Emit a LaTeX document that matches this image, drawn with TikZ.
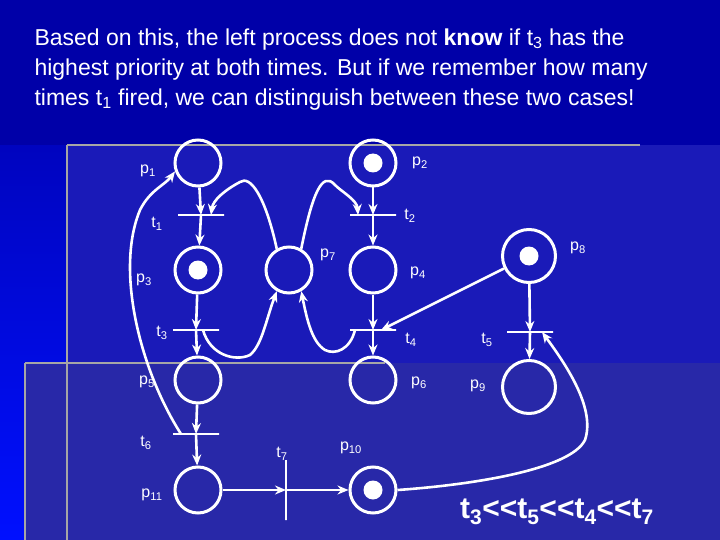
\documentclass[tikz,border=0pt]{standalone}
\usepackage{fontspec}
\setmainfont{Liberation Sans}
\usetikzlibrary{arrows.meta}
\definecolor{topblue}{HTML}{0000A8}
\definecolor{sideblue}{HTML}{0010FF}
\definecolor{panelA}{HTML}{1A1AB8}
\definecolor{panelB}{HTML}{2828A8}
\begin{document}
\begin{tikzpicture}[x=1pt,y=-1pt,
  pl/.style={circle,draw=white,line width=3pt,minimum size=46pt,inner sep=0pt},
  tok/.style={circle,fill=white,minimum size=19pt,inner sep=0pt},
  tr/.style={draw=white,line width=2.6pt,minimum width=46pt,minimum height=0pt,inner sep=0pt},
  trv/.style={draw=white,line width=2.6pt,minimum height=60pt,minimum width=0pt,inner sep=0pt},
  arc/.style={white,line width=2.6pt,-{Stealth[length=11pt,width=9pt]}},
  lab/.style={text=white,font=\fontsize{16}{18}\selectfont},
]
\useasboundingbox (0,0) rectangle (720,540);
\shade[top color=topblue,bottom color=sideblue] (0,0) rectangle (720,540);
\fill[topblue] (0,0) rectangle (720,145);
\fill[panelA] (67,145) rectangle (720,540);
\fill[panelB] (25,363) rectangle (720,540);
\draw[gray!70,line width=2.5pt] (67,145) -- (640,145);
\draw[gray!70,line width=2.5pt] (67,145) -- (67,540);
\draw[gray!70,line width=2.5pt] (25,363) -- (385,363);
\draw[gray!70,line width=2.5pt] (25,363) -- (25,540);
\node[anchor=north west,text=white,align=left,font=\fontsize{23}{30}\selectfont] (title) at (31,25)
 {Based on this, the left process does not \textbf{know} if t\textsubscript{3} has the\\
  highest priority at both times. But if we remember how many\\
  times t\textsubscript{1} fired, we can distinguish between these two cases!};
% places
\node[pl] (p1) at (198,163) {};
\node[pl] (p2) at (373,163) {}; \node[tok] at (p2) {};
\node[pl] (p3) at (198,270) {}; \node[tok] at (p3) {};
\node[pl] (p7) at (289,270) {};
\node[pl] (p4) at (373,270) {};
\node[pl,minimum size=53pt] (p8) at (529,256) {}; \node[tok] at (p8) {};
\node[pl] (p5) at (198,380) {};
\node[pl] (p6) at (373,380) {};
\node[pl,minimum size=53pt] (p9) at (529,387) {};
\node[pl] (p11) at (198,490) {};
\node[pl] (p10) at (373,490) {}; \node[tok] at (p10) {};
% transitions
\node[tr] (t1) at (201,215) {};
\node[tr] (t2) at (373,215) {};
\node[tr] (t3) at (196,330) {};
\node[tr] (t4) at (373,330) {};
\node[tr] (t5) at (530,332) {};
\node[tr] (t6) at (196,434) {};
\node[trv] (t7) at (286,490) {};
% labels
\node[lab] at (148,171) {p\textsubscript{1}};
\node[lab] at (420,163) {p\textsubscript{2}};
\node[lab] at (157,224) {t\textsubscript{1}};
\node[lab] at (410,216) {t\textsubscript{2}};
\node[lab] at (328,255) {p\textsubscript{7}};
\node[lab] at (578,248) {p\textsubscript{8}};
\node[lab] at (144,280) {p\textsubscript{3}};
\node[lab] at (418,273) {p\textsubscript{4}};
\node[lab] at (162,333) {t\textsubscript{3}};
\node[lab] at (411,340) {t\textsubscript{4}};
\node[lab] at (487,340) {t\textsubscript{5}};
\node[lab] at (147,382) {p\textsubscript{5}};
\node[lab] at (419,383) {p\textsubscript{6}};
\node[lab] at (478,386) {p\textsubscript{9}};
\node[lab] at (146,443) {t\textsubscript{6}};
\node[lab] at (282,454) {t\textsubscript{7}};
\node[lab] at (351,448) {p\textsubscript{10}};
\node[lab] at (152,495) {p\textsubscript{11}};
\node[text=white,font=\fontsize{30}{32}\selectfont\bfseries] (order) at (557,512)
 {t\textsubscript{3}{<}{<}t\textsubscript{5}{<}{<}t\textsubscript{4}{<}{<}t\textsubscript{7}};
% arcs
\draw[arc] (p1) -- (t1.center);
\draw[arc] (t1.center) -- (p3);
\draw[arc] (p2) -- (t2.center);
\draw[arc] (t2.center) -- (p4);
\draw[arc] (p3) -- (t3.center);
\draw[arc] (t3.center) -- (p5);
\draw[arc] (p4) -- (t4.center);
\draw[arc] (t4.center) -- (p6);
\draw[arc] (p8) -- (t5.center);
\draw[arc] (t5.center) -- (p9);
\draw[arc] (p5) -- (t6.center);
\draw[arc] (t6.center) -- (p11);
\draw[arc] (p11) -- (t7.center);
\draw[arc] (t7.center) -- (p10);
\draw[arc] (p8) -- ([xshift=8pt]t4.center);
\draw[arc] (p7.120) .. controls (265,195) and (250,175) .. (240,182) .. controls (225,190) and (213,200) .. ([xshift=10pt]t1.center);
\draw[arc] (p7.60) .. controls (312,195) and (322,170) .. (335,185) .. controls (342,192) and (357,200) .. ([xshift=-15pt]t2.center);
\draw[arc] ([xshift=7pt]t3.center) .. controls (210,355) and (235,362) .. (250,355) .. controls (262,345) and (266,320) .. (p7.240);
\draw[arc] ([xshift=-18pt]t4.center) .. controls (350,350) and (335,355) .. (325,350) .. controls (312,342) and (307,320) .. (p7.300);
\draw[arc] ([xshift=-15pt]t6.center) .. controls (140,370) and (115,270) .. (140,210) .. controls (150,190) and (165,185) .. (p1.200);
\draw[arc] (p10.east) .. controls (470,485) and (570,470) .. (585,440) .. controls (595,410) and (570,370) .. ([xshift=12pt]t5.center);
\end{tikzpicture}
\end{document}
